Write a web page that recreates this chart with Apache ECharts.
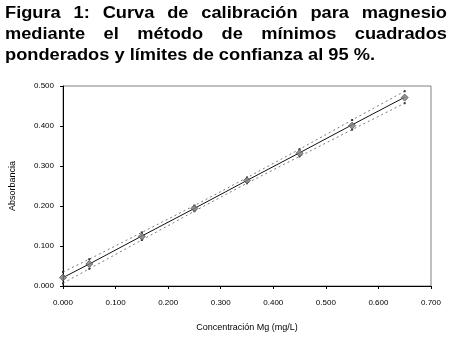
<!DOCTYPE html>
<html>
<head>
<meta charset="utf-8">
<script src="https://cdn.jsdelivr.net/npm/echarts@6/dist/echarts.min.js"></script>
<style>
  html, body { margin: 0; padding: 0; background: #fff; }
  #chart { width: 460px; height: 342px; }
</style>
</head>
<body>
<div id="chart"></div>
<script>
const titleLines = [
  "Figura 1: Curva de calibración para magnesio",
  "mediante el método de mínimos cuadrados",
  "ponderados y límites de confianza al 95 %."
]
const concentracion = [0, 0.05, 0.15, 0.25, 0.35, 0.45, 0.55, 0.65]
const absorbancia = [0.021, 0.055, 0.124, 0.194, 0.264, 0.332, 0.401, 0.471]
const ajuste = [0.021, 0.055, 0.125, 0.194, 0.264, 0.333, 0.403, 0.472]
const limiteSup = [0.035, 0.067, 0.134, 0.201, 0.271, 0.342, 0.415, 0.487]
const limiteInf = [0.007, 0.043, 0.115, 0.187, 0.257, 0.324, 0.391, 0.457]

const titleFont = 'bold 16px "Liberation Sans", Arial, sans-serif'
const axisFont = '"Liberation Sans", Arial, sans-serif'

// justified title, built word by word (slightly stretched like the original)
const stretch = 1.14
const ctx = document.createElement("canvas").getContext("2d")
ctx.font = titleFont
const titleLeft = 5
const titleRight = 447
const baselines = [20.5, 41.5, 62.5]
const titleGraphics = []
titleLines.forEach((line, i) => {
  const words = line.split(" ")
  const widths = words.map((w) => ctx.measureText(w).width * stretch)
  const total = widths.reduce((a, b) => a + b, 0)
  const last = i === titleLines.length - 1
  const gap = last ? ctx.measureText(" ").width * stretch : (titleRight - titleLeft - total) / (words.length - 1)
  let x = titleLeft
  words.forEach((w, k) => {
    titleGraphics.push({
      type: "text",
      x: x,
      y: baselines[i] - 15,
      scaleX: stretch,
      style: { text: w, font: titleFont, fill: "#000" },
    })
    x += widths[k] + gap
  })
})

const pair = (ys) => concentracion.map((x, i) => [x, ys[i]])

const chart = echarts.init(document.getElementById("chart"))
chart.setOption({
  animation: false,
  graphic: titleGraphics,
  grid: {
    left: 60,
    right: 29,
    top: 86,
    bottom: 56,
    show: true,
    borderColor: "#808080",
    borderWidth: 1,
  },
  xAxis: {
    type: "value",
    min: 0,
    max: 0.7,
    interval: 0.1,
    name: "Concentración Mg (mg/L)",
    nameLocation: "middle",
    nameGap: 37,
    nameTextStyle: { fontFamily: axisFont, fontSize: 9, color: "#000" },
    axisLine: { show: true, lineStyle: { color: "#000", width: 1 } },
    axisTick: { show: true, length: 3, lineStyle: { color: "#000" } },
    axisLabel: {
      fontFamily: axisFont,
      fontSize: 8,
      color: "#000",
      margin: 13,
      formatter: (v) => v.toFixed(3),
    },
    splitLine: { show: false },
  },
  yAxis: {
    type: "value",
    min: 0,
    max: 0.5,
    interval: 0.1,
    name: "Absorbancia",
    nameLocation: "middle",
    nameGap: 46,
    nameTextStyle: { fontFamily: axisFont, fontSize: 9, color: "#000" },
    axisLine: { show: true, lineStyle: { color: "#000", width: 1 } },
    axisTick: { show: true, length: 3, lineStyle: { color: "#000" } },
    axisLabel: {
      fontFamily: axisFont,
      fontSize: 8,
      color: "#000",
      margin: 9,
      formatter: (v) => v.toFixed(3),
    },
    splitLine: { show: false },
  },
  series: [
    {
      name: "Límite superior",
      type: "line",
      data: pair(limiteSup),
      symbol: "rect",
      symbolSize: 2,
      itemStyle: { color: "#333" },
      lineStyle: { color: "#777", width: 1, type: [2, 3] },
      z: 2,
    },
    {
      name: "Límite inferior",
      type: "line",
      data: pair(limiteInf),
      symbol: "rect",
      symbolSize: 2,
      itemStyle: { color: "#333" },
      lineStyle: { color: "#777", width: 1, type: [2, 3] },
      z: 2,
    },
    {
      name: "Ajuste",
      type: "line",
      data: pair(ajuste),
      symbol: "none",
      lineStyle: { color: "#111", width: 1 },
      z: 3,
    },
    {
      name: "Absorbancia",
      type: "scatter",
      data: pair(absorbancia),
      symbol: "diamond",
      symbolSize: 7,
      itemStyle: { color: "#7a7a7a", borderColor: "#555", borderWidth: 1 },
      z: 4,
    },
  ],
})
</script>
</body>
</html>
